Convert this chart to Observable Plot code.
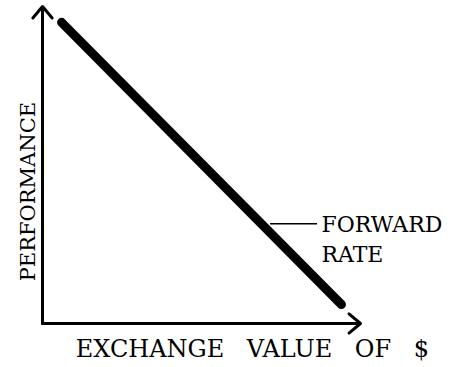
<!DOCTYPE html>
<html>
<head>
<meta charset="utf-8">
<script src="https://cdn.jsdelivr.net/npm/d3@7"></script>
<script src="https://cdn.jsdelivr.net/npm/@observablehq/plot@0.6"></script>
<style>
  html, body { margin: 0; padding: 0; background: #fff; }
  #chart svg { display: block; }
  .xlab text { word-spacing: 15px; }
</style>
</head>
<body>
<div id="chart"></div>
<script>
// Conceptual data (unitless 0–10 space)
const forwardX = [0.6, 9.4];
const forwardY = [9.5, 0.6];
const axisStart = [[0, 0], [0, 0]];
const axisEnd = [[10, 0], [0, 10]];
const xLabel = "EXCHANGE VALUE OF $";
const yLabel = "PERFORMANCE";
const seriesLabels = ["FORWARD", "RATE"];
const seriesLabelY = [3.12, 2.15];
const leaderX = [7.17, 8.65];
const leaderY = 3.15;

const lineData = forwardX.map((x, i) => ({x, y: forwardY[i]}));
const axes = axisStart.map((s, i) => ({x1: s[0], y1: s[1], x2: axisEnd[i][0], y2: axisEnd[i][1]}));
const labelData = seriesLabels.map((t, i) => ({t, x: 8.77, y: seriesLabelY[i]}));

const font = "'DejaVu Serif', 'Liberation Serif', serif";

const chart = Plot.plot({
  width: 452,
  height: 367,
  marginLeft: 42,
  marginRight: 92,
  marginTop: 6,
  marginBottom: 44,
  x: {domain: [0, 10], axis: null},
  y: {domain: [0, 10], axis: null},
  style: {background: "#fff", fontFamily: font},
  marks: [
    Plot.arrow(axes, {x1: "x1", y1: "y1", x2: "x2", y2: "y2", stroke: "#000", strokeWidth: 3, headLength: 7.5, headAngle: 80}),
    Plot.line(lineData, {x: "x", y: "y", stroke: "#000", strokeWidth: 9, strokeLinecap: "round"}),
    Plot.ruleY([leaderY], {x1: leaderX[0], x2: leaderX[1], stroke: "#000", strokeWidth: 1.5}),
    Plot.text(labelData, {x: "x", y: "y", text: "t", textAnchor: "start", fontSize: 22, fill: "#000"}),
    Plot.text([xLabel], {x: 6.6, y: -0.82, text: d => d, fontSize: 24, fill: "#000", className: "xlab"}),
    Plot.text([yLabel], {x: -0.44, y: 4.16, text: d => d, rotate: -90, fontSize: 21, fill: "#000"})
  ]
});
document.getElementById("chart").appendChild(chart);
</script>
</body>
</html>
